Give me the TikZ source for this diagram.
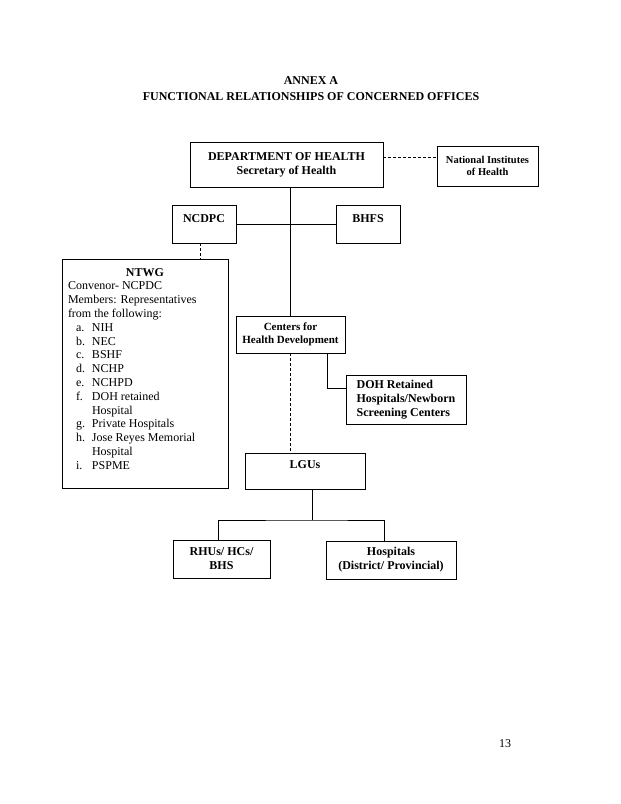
\documentclass[tikz,border=0pt]{standalone}
\usepackage{fontspec}
\setmainfont{Liberation Serif}
\usetikzlibrary{positioning}

\newcommand{\ntwgitem}[2]{\hspace*{8pt}\makebox[16pt][l]{#1}#2}

\begin{document}
\begin{tikzpicture}[x=1pt, y=-1pt,
    box/.style={draw, line width=0.6pt, inner sep=0pt, outer sep=0pt, align=center,
        font=\fontsize{12}{14}\selectfont\bfseries},
    smallbox/.style={box, font=\fontsize{11}{13}\selectfont\bfseries},
    listbox/.style={draw, line width=0.6pt, outer sep=0pt, inner xsep=6pt, inner ysep=0pt,
        anchor=north west, text width=154pt, align=flush left, text height=17pt,
        font=\fontsize{12}{13.8}\selectfont},
    link/.style={line width=0.6pt},
    dashlink/.style={line width=0.6pt, dash pattern=on 3pt off 2pt}]
    \useasboundingbox (0,0) rectangle (621,804);

    % Heading
    \node[font=\fontsize{12}{16}\selectfont\bfseries, align=center] (title) at (311,89)
        {ANNEX A\\FUNCTIONAL RELATIONSHIPS OF CONCERNED OFFICES};

    % Top level
    \node[box, minimum width=193pt, minimum height=45pt] (doh) at (286.5,164.5)
        {DEPARTMENT OF HEALTH\\Secretary of Health};
    \node[box, font=\fontsize{10.5}{12}\selectfont\bfseries, minimum width=101pt, minimum height=40pt]
        (nih) at (487.5,166) {National Institutes\\of Health};

    % Second level
    \node[box, minimum width=64pt, text height=17pt, text depth=21pt] (ncdpc) at (204,224) {NCDPC};
    \node[box, minimum width=64pt, text height=17pt, text depth=21pt] (bhfs) at (368,224) {BHFS};

    % Working group
    \node[listbox] (ntwg) at (62,259) {\makebox[\linewidth]{\bfseries NTWG}\\
        Convenor- NCPDC\\
        Members: Representatives\\
        from the following:\\
        \ntwgitem{a.}{NIH}\\
        \ntwgitem{b.}{NEC}\\
        \ntwgitem{c.}{BSHF}\\
        \ntwgitem{d.}{NCHP}\\
        \ntwgitem{e.}{NCHPD}\\
        \ntwgitem{f.}{DOH retained}\\
        \ntwgitem{}{Hospital}\\
        \ntwgitem{g.}{Private Hospitals}\\
        \ntwgitem{h.}{Jose Reyes Memorial}\\
        \ntwgitem{}{Hospital}\\
        \ntwgitem{i.}{PSPME}\rule[-19pt]{0pt}{19pt}};

    % Regional level
    \node[smallbox, minimum width=109pt, minimum height=37pt] (chd) at (290.5,334.5)
        {Centers for\\Health Development};
    \node[box, align=left, minimum width=120pt, minimum height=49pt] (retained) at (406,399.5)
        {DOH Retained\\Hospitals/Newborn\\Screening Centers};

    % Local level
    \node[box, minimum width=120pt, text height=15pt, text depth=21pt] (lgus) at (305,471) {LGUs};
    \node[box, minimum width=97pt, minimum height=38pt] (rhus) at (221.5,559) {RHUs/ HCs/\\BHS};
    \node[box, minimum width=130pt, minimum height=38pt] (hosp) at (391,560)
        {Hospitals\\(District/ Provincial)};

    % Page number
    \node[font=\fontsize{12}{14}\selectfont] (page) at (505,744) {13};

    % Connectors
    \draw[dashlink] ([yshift=7.5pt]doh.east) -- ([yshift=7.5pt]doh.east -| nih.west);
    \draw[link] (doh.south -| chd.north) -- (chd.north);
    \draw[link] (ncdpc.east) -- (bhfs.west);
    \draw[dashlink] ([xshift=-4pt]ncdpc.south) -- ([xshift=-4pt]ncdpc.south |- ntwg.north);
    \draw[link] ([xshift=37pt]chd.south) |- ([yshift=11.5pt]retained.west);
    \draw[dashlink] (chd.south) -- (lgus.north -| chd.south);
    \coordinate (split) at (312,520);
    \draw[link] (lgus.south -| split) -- (split);
    \draw[link] ([xshift=-3.5pt]rhus.north) |- (split) -| ([xshift=-7pt]hosp.north);
\end{tikzpicture}
\end{document}
